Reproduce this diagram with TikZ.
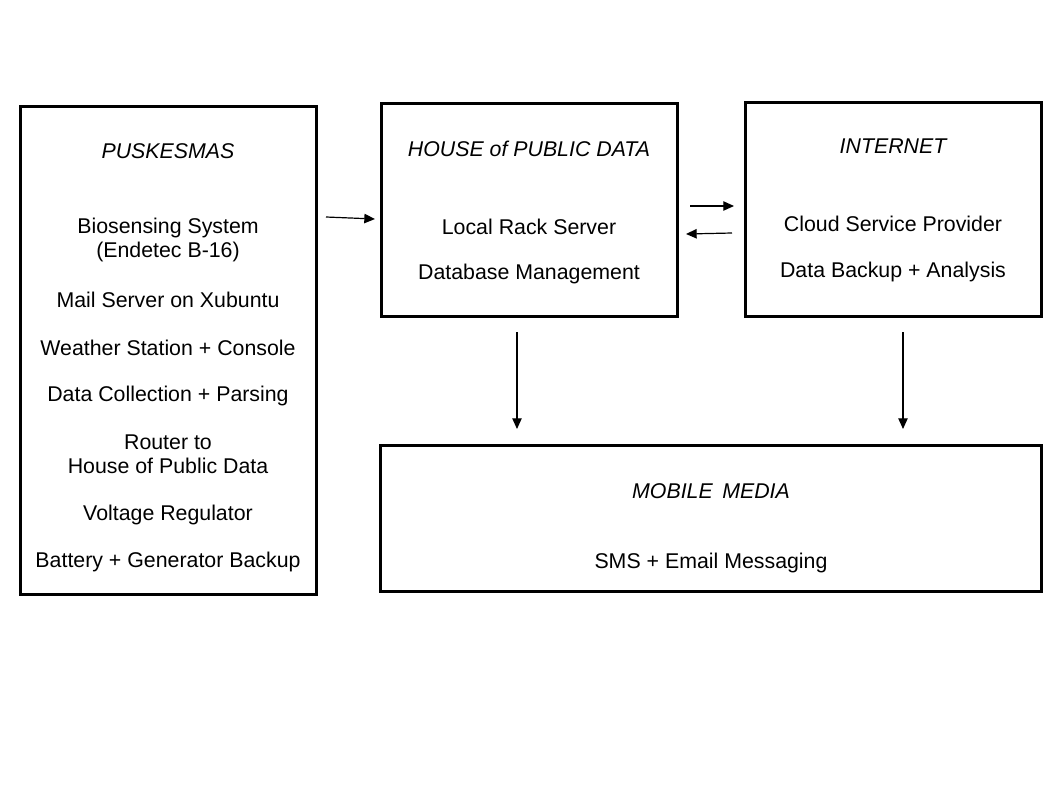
\documentclass[tikz,border=0pt]{standalone}
\usepackage{fontspec}
\setmainfont{Liberation Sans}
\usetikzlibrary{arrows.meta}
\begin{document}
\begin{tikzpicture}[x=0.75pt,y=-0.75pt,
  box/.style={draw,line width=2.3pt,inner sep=0pt},
  txt/.style={font=\fontsize{16pt}{18pt}\selectfont,inner sep=0pt,align=center},
  ttl/.style={txt,font=\fontsize{16pt}{18pt}\selectfont\itshape},
  arr/.style={-{Triangle[length=8pt,width=7pt]},line width=0.9pt}]
\useasboundingbox (0,0) rectangle (1058,793);
% boxes
\draw[box] (20.5,106.5) rectangle (316.5,594.5);
\draw[box] (381.5,103.5) rectangle (677.5,316.5);
\draw[box] (745.5,102.5) rectangle (1041.5,316.5);
\draw[box] (380.5,445.5) rectangle (1041.5,591.5);
% PUSKESMAS
\node[ttl] (p0) at (168,151) {PUSKESMAS};
\node[txt] (p1) at (168,240) {Biosensing System\\(Endetec B-16)};
\node[txt] (p2) at (168,300) {Mail Server on Xubuntu};
\node[txt] (p3) at (168,348) {Weather Station + Console};
\node[txt] (p4) at (168,396) {Data Collection + Parsing};
\node[txt] (p5) at (168,454) {Router to\\House of Public Data};
\node[txt] (p6) at (168,515) {Voltage Regulator};
\node[txt] (p7) at (168,562) {Battery + Generator Backup};
% HOUSE
\node[ttl] (h0) at (529,149) {HOUSE of PUBLIC DATA};
\node[txt] (h1) at (529,227) {Local Rack Server};
\node[txt] (h2) at (529,274) {Database Management};
% INTERNET
\node[ttl] (i0) at (893,146) {INTERNET};
\node[txt] (i1) at (893,224) {Cloud Service Provider};
\node[txt] (i2) at (893,272) {Data Backup + Analysis};
% MOBILE
\node[ttl] (m0) at (711,491) {MOBILE \,MEDIA};
\node[txt] (m1) at (711,563) {SMS + Email Messaging};
% arrows
\coordinate (a1s) at (326,217); \coordinate (a1e) at (375,219);
\coordinate (a2s) at (690,206); \coordinate (a2e) at (734,206);
\coordinate (a3s) at (732,233); \coordinate (a3e) at (686,234);
\coordinate (a4s) at (517,332); \coordinate (a4e) at (517,429);
\coordinate (a5s) at (903,332); \coordinate (a5e) at (903,429);
\draw[arr] (a1s) -- (a1e);
\draw[arr] (a2s) -- (a2e);
\draw[arr] (a3s) -- (a3e);
\draw[arr] (a4s) -- (a4e);
\draw[arr] (a5s) -- (a5e);
\end{tikzpicture}
\end{document}
